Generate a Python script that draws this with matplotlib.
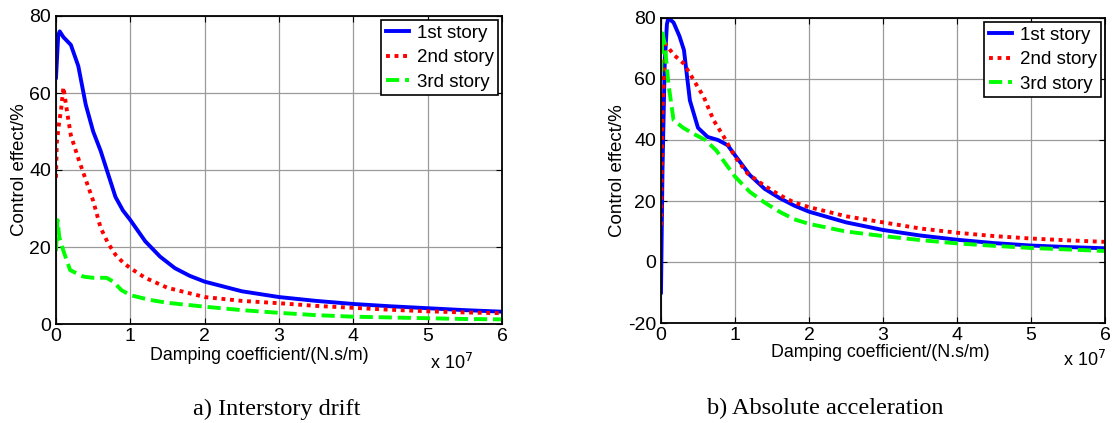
import matplotlib
matplotlib.use("Agg")
import matplotlib.pyplot as plt
import numpy as np

plt.rcParams["font.family"] = ["Liberation Sans", "DejaVu Sans"]
plt.rcParams["axes.unicode_minus"] = False

# Damping coefficient in units of 1e7 N.s/m, control effect in %
# a) interstory drift
drift_x1 = [0, 0.03, 0.05, 0.1, 0.2, 0.3, 0.4, 0.5, 0.6, 0.7, 0.8, 0.9, 1.0, 1.2, 1.4, 1.6, 1.8, 2.0, 2.5, 3, 3.5, 4, 4.5, 5, 5.5, 6]
drift_y1 = [64, 75, 76, 74.5, 72.5, 67, 57, 50, 45, 39, 33, 29.5, 27, 21.5, 17.5, 14.5, 12.5, 11, 8.5, 7, 6, 5.2, 4.6, 4.1, 3.6, 3.2]
drift_x2 = [0, 0.01, 0.04, 0.07, 0.1, 0.15, 0.2, 0.3, 0.4, 0.5, 0.6, 0.7, 0.8, 0.9, 1.0, 1.2, 1.5, 2.0, 2.5, 3, 3.5, 4, 4.5, 5, 5.5, 6]
drift_y2 = [38, 47, 52, 56, 61.5, 55, 49, 43, 37.5, 32, 25, 21, 18, 16, 14.5, 12, 9.4, 7, 6, 5.4, 4.7, 4.2, 3.7, 3.3, 3.0, 2.8]
drift_x3 = [0, 0.02, 0.045, 0.1, 0.19, 0.37, 0.5, 0.68, 0.77, 0.88, 1.0, 1.25, 1.5, 2.0, 2.5, 3, 3.5, 4, 4.5, 5, 5.5, 6]
drift_y3 = [19, 27, 22.5, 19, 14, 12.3, 12, 12, 11, 8.8, 7.5, 6.3, 5.5, 4.5, 3.6, 2.9, 2.3, 1.9, 1.7, 1.5, 1.3, 1.2]

# b) absolute acceleration
acc_x1 = [0, 0.02, 0.05, 0.08, 0.1, 0.17, 0.25, 0.31, 0.39, 0.5, 0.63, 0.77, 0.9, 1.0, 1.2, 1.4, 1.6, 1.8, 2.0, 2.5, 3, 3.5, 4, 4.5, 5, 5.5, 6]
acc_y1 = [-10, 30, 65, 78, 80, 78.5, 74, 69.5, 53, 44, 41, 40, 38.3, 35, 28.5, 24, 21, 18.5, 16.5, 13, 10.5, 8.7, 7.3, 6.2, 5.4, 4.9, 4.5]
acc_x2 = [0, 0.02, 0.06, 0.17, 0.31, 0.44, 0.58, 0.71, 0.85, 1.0, 1.17, 1.4, 1.6, 1.8, 2.0, 2.5, 3, 3.5, 4, 4.5, 5, 5.5, 6]
acc_y2 = [12, 50, 71.5, 68, 65, 59.7, 54, 46.5, 41, 34.5, 29, 25, 22, 19.5, 18, 15, 13, 11, 9.6, 8.5, 7.7, 7.1, 6.6]
acc_x3 = [0, 0.02, 0.05, 0.1, 0.17, 0.3, 0.44, 0.6, 0.75, 0.85, 1.0, 1.2, 1.4, 1.6, 1.8, 2.0, 2.5, 3, 3.5, 4, 4.5, 5, 5.5, 6]
acc_y3 = [62, 75, 71.5, 58.5, 46.5, 44, 42, 40, 36.5, 33, 28, 23, 19.5, 16.5, 14, 12.5, 10, 8.5, 7.2, 6.1, 5.3, 4.6, 4.1, 3.6]

labels = ["1st story", "2nd story", "3rd story"]
x_ticks = [0, 1, 2, 3, 4, 5, 6]
captions = ["a) Interstory drift", "b) Absolute acceleration"]

STYLES = [dict(color="#0000ff", ls="-"),
          dict(color="#ff0000", ls=(0, (1, 1.2))),
          dict(color="#00ff00", ls=(0, (3.4, 1.5)))]

fig = plt.figure(figsize=(11.13, 4.23), dpi=100)
ax1 = fig.add_axes([56/1113, 1-324/423, 446/1113, 308/423])
ax2 = fig.add_axes([661/1113, 1-323/423, 444/1113, 305/423])

panels = [(ax1, [(drift_x1, drift_y1), (drift_x2, drift_y2), (drift_x3, drift_y3)], (0, 80), [0, 20, 40, 60, 80]),
          (ax2, [(acc_x1, acc_y1), (acc_x2, acc_y2), (acc_x3, acc_y3)], (-20, 80), [-20, 0, 20, 40, 60, 80])]

for ax, series, ylim, yt in panels:
    for (xs, ys), st, lab in zip(series, STYLES, labels):
        ax.plot(xs, ys, lw=2.8, label=lab, dash_capstyle="butt", **st)
    ax.set_xlim(0, 6); ax.set_ylim(*ylim)
    ax.set_xticks(x_ticks); ax.set_yticks(yt)
    ax.grid(color="#9a9a9a", lw=0.9)
    ax.tick_params(direction="in", top=True, right=True, length=4, labelsize=14)
    ax.tick_params(axis="x", pad=3); ax.tick_params(axis="y", pad=3.5)
    for s in ax.spines.values():
        s.set_linewidth(1.3)
    ax.set_ylabel("Control effect/%", fontsize=13.5, labelpad=1)
    leg = ax.legend(loc="upper right", fontsize=13.5, fancybox=False, edgecolor="black",
                    handlelength=1.25, handletextpad=0.4, borderpad=0.25, labelspacing=0.4,
                    borderaxespad=0.2, framealpha=1)
    leg.get_frame().set_linewidth(1.2)

fig.text(259/1113, 1-355/423, "Damping coefficient/(N.s/m)", ha="center", va="center", fontsize=12.8)
fig.text(880/1113, 1-352/423, "Damping coefficient/(N.s/m)", ha="center", va="center", fontsize=12.8)
fig.text(430/1113, 1-363/423, r"x 10$^{7}$", ha="left", va="center", fontsize=13)
fig.text(1063/1113, 1-360/423, r"x 10$^{7}$", ha="left", va="center", fontsize=13)
fig.text(277/1113, 1-409/423, captions[0], ha="center", va="center", fontsize=17.5, family="Liberation Serif")
fig.text(825/1113, 1-408/423, captions[1], ha="center", va="center", fontsize=17.5, family="Liberation Serif")

fig.savefig("out.png", dpi=100)
